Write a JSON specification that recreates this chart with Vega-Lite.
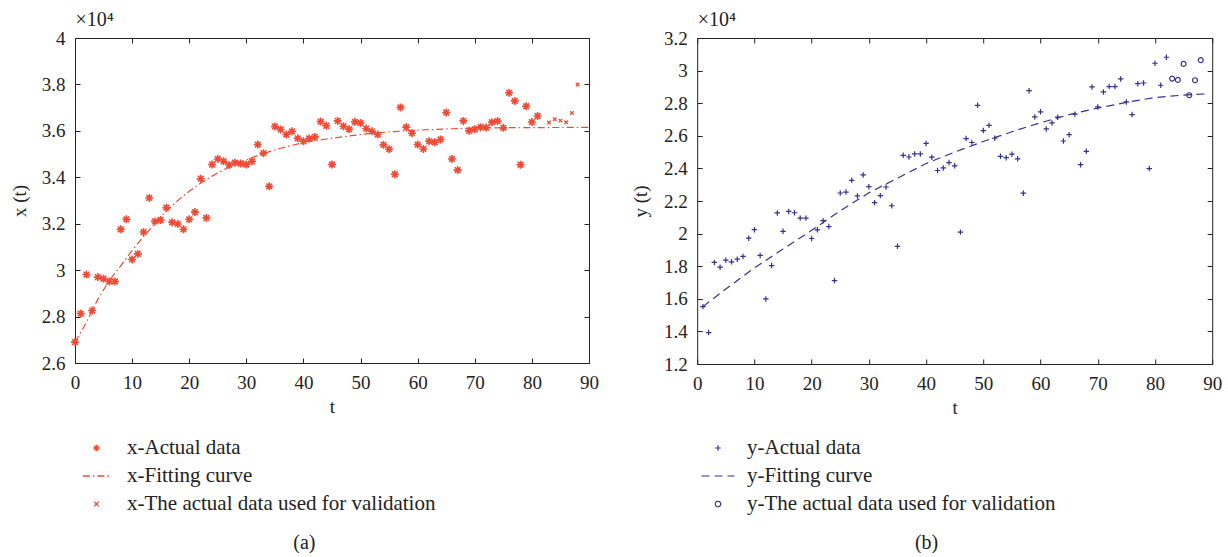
{
  "$schema": "https://vega.github.io/schema/vega-lite/v6.json",
  "background": "white",
  "padding": {"left": 10, "top": 9, "right": 6, "bottom": 0},
  "datasets": {
    "xActual": [
      {"t":0,"v":2.69},{"t":1,"v":2.813},{"t":2,"v":2.981},{"t":3,"v":2.826},{"t":4,"v":2.97},{"t":5,"v":2.963},{"t":6,"v":2.951},{"t":7,"v":2.951},{"t":8,"v":3.176},{"t":9,"v":3.219},
      {"t":10,"v":3.046},{"t":11,"v":3.07},{"t":12,"v":3.164},{"t":13,"v":3.311},{"t":14,"v":3.21},{"t":15,"v":3.216},{"t":16,"v":3.269},{"t":17,"v":3.206},{"t":18,"v":3.199},{"t":19,"v":3.176},
      {"t":20,"v":3.219},{"t":21,"v":3.25},{"t":22,"v":3.394},{"t":23,"v":3.225},{"t":24,"v":3.455},{"t":25,"v":3.479},{"t":26,"v":3.469},{"t":27,"v":3.453},{"t":28,"v":3.463},{"t":29,"v":3.459},
      {"t":30,"v":3.455},{"t":31,"v":3.469},{"t":32,"v":3.541},{"t":33,"v":3.504},{"t":34,"v":3.361},{"t":35,"v":3.619},{"t":36,"v":3.606},{"t":37,"v":3.584},{"t":38,"v":3.598},{"t":39,"v":3.568},
      {"t":40,"v":3.555},{"t":41,"v":3.567},{"t":42,"v":3.574},{"t":43,"v":3.64},{"t":44,"v":3.622},{"t":45,"v":3.455},{"t":46,"v":3.643},{"t":47,"v":3.62},{"t":48,"v":3.607},{"t":49,"v":3.639},
      {"t":50,"v":3.634},{"t":51,"v":3.61},{"t":52,"v":3.598},{"t":53,"v":3.584},{"t":54,"v":3.54},{"t":55,"v":3.521},{"t":56,"v":3.413},{"t":57,"v":3.701},{"t":58,"v":3.616},{"t":59,"v":3.59},
      {"t":60,"v":3.541},{"t":61,"v":3.522},{"t":62,"v":3.555},{"t":63,"v":3.551},{"t":64,"v":3.563},{"t":65,"v":3.679},{"t":66,"v":3.479},{"t":67,"v":3.431},{"t":68,"v":3.643},{"t":69,"v":3.6},
      {"t":70,"v":3.607},{"t":71,"v":3.616},{"t":72,"v":3.614},{"t":73,"v":3.637},{"t":74,"v":3.642},{"t":75,"v":3.613},{"t":76,"v":3.764},{"t":77,"v":3.729},{"t":78,"v":3.454},{"t":79,"v":3.706},
      {"t":80,"v":3.638},{"t":81,"v":3.664}
    ],
    "xFit": [
      {"t":0,"v":2.69},{"t":2,"v":2.775},{"t":4,"v":2.875},{"t":6,"v":2.955},{"t":8,"v":3.018},{"t":10,"v":3.085},{"t":12,"v":3.145},{"t":14,"v":3.2},{"t":16,"v":3.255},{"t":18,"v":3.3},
      {"t":20,"v":3.34},{"t":22,"v":3.375},{"t":24,"v":3.405},{"t":26,"v":3.432},{"t":28,"v":3.455},{"t":30,"v":3.475},{"t":33,"v":3.503},{"t":36,"v":3.525},{"t":40,"v":3.55},{"t":44,"v":3.565},
      {"t":48,"v":3.578},{"t":52,"v":3.59},{"t":56,"v":3.597},{"t":60,"v":3.603},{"t":66,"v":3.609},{"t":72,"v":3.613},{"t":80,"v":3.614},{"t":90,"v":3.615}
    ],
    "xVal": [
      {"t":83,"v":3.636},{"t":84,"v":3.65},{"t":85,"v":3.644},{"t":86,"v":3.637},{"t":87,"v":3.677},{"t":88,"v":3.8}
    ],
    "yActual": [
      {"t":1,"v":1.552},{"t":2,"v":1.393},{"t":3,"v":1.823},{"t":4,"v":1.794},{"t":5,"v":1.837},{"t":6,"v":1.827},{"t":7,"v":1.843},{"t":8,"v":1.86},{"t":9,"v":1.972},{"t":10,"v":2.024},
      {"t":11,"v":1.866},{"t":12,"v":1.599},{"t":13,"v":1.804},{"t":14,"v":2.127},{"t":15,"v":2.014},{"t":16,"v":2.136},{"t":17,"v":2.128},{"t":18,"v":2.095},{"t":19,"v":2.095},{"t":20,"v":1.97},
      {"t":21,"v":2.023},{"t":22,"v":2.079},{"t":23,"v":2.043},{"t":24,"v":1.712},{"t":25,"v":2.249},{"t":26,"v":2.255},{"t":27,"v":2.327},{"t":28,"v":2.231},{"t":29,"v":2.36},{"t":30,"v":2.288},
      {"t":31,"v":2.19},{"t":32,"v":2.233},{"t":33,"v":2.286},{"t":34,"v":2.171},{"t":35,"v":1.922},{"t":36,"v":2.48},{"t":37,"v":2.47},{"t":38,"v":2.489},{"t":39,"v":2.489},{"t":40,"v":2.553},
      {"t":41,"v":2.469},{"t":42,"v":2.387},{"t":43,"v":2.403},{"t":44,"v":2.436},{"t":45,"v":2.416},{"t":46,"v":2.009},{"t":47,"v":2.583},{"t":48,"v":2.559},{"t":49,"v":2.787},{"t":50,"v":2.632},
      {"t":51,"v":2.664},{"t":52,"v":2.585},{"t":53,"v":2.474},{"t":54,"v":2.466},{"t":55,"v":2.487},{"t":56,"v":2.459},{"t":57,"v":2.248},{"t":58,"v":2.877},{"t":59,"v":2.716},{"t":60,"v":2.747},
      {"t":61,"v":2.642},{"t":62,"v":2.679},{"t":63,"v":2.714},{"t":64,"v":2.568},{"t":65,"v":2.607},{"t":66,"v":2.733},{"t":67,"v":2.423},{"t":68,"v":2.505},{"t":69,"v":2.9},{"t":70,"v":2.777},
      {"t":71,"v":2.869},{"t":72,"v":2.902},{"t":73,"v":2.902},{"t":74,"v":2.949},{"t":75,"v":2.808},{"t":76,"v":2.73},{"t":77,"v":2.92},{"t":78,"v":2.924},{"t":79,"v":2.399},{"t":80,"v":3.045},
      {"t":81,"v":2.91},{"t":82,"v":3.082}
    ],
    "yFit": [
      {"t":1,"v":1.552},{"t":5,"v":1.66},{"t":10,"v":1.79},{"t":15,"v":1.905},{"t":20,"v":2.02},{"t":25,"v":2.14},{"t":30,"v":2.25},{"t":35,"v":2.34},{"t":40,"v":2.43},{"t":45,"v":2.5},
      {"t":50,"v":2.565},{"t":55,"v":2.625},{"t":60,"v":2.68},{"t":65,"v":2.73},{"t":70,"v":2.77},{"t":75,"v":2.805},{"t":80,"v":2.835},{"t":85,"v":2.85},{"t":89,"v":2.857}
    ],
    "yVal": [
      {"t":83,"v":2.951},{"t":84,"v":2.943},{"t":85,"v":3.041},{"t":86,"v":2.849},{"t":87,"v":2.941},{"t":88,"v":3.064}
    ]
  },
  "spacing": 108.2,
  "bounds": "flush",
  "resolve": {
    "scale": {"color": "independent", "shape": "independent", "strokeDash": "independent"},
    "legend": {"color": "independent", "shape": "independent", "strokeDash": "independent"}
  },
  "hconcat": [
    {
      "width": 514,
      "height": 325,
      "title": {"text": "(a)", "orient": "bottom", "anchor": "middle", "frame": "bounds", "offset": 18.5, "fontSize": 20, "fontWeight": "normal", "font": "Liberation Serif", "color": "#222"},
      "layer": [
        {
          "data": {"name": "xActual"},
          "mark": {"type": "point", "filled": false, "size": 64, "strokeWidth": 1.6, "opacity": 1},
          "encoding": {
            "x": {"field": "t", "type": "quantitative", "scale": {"domain": [0, 90], "nice": false, "zero": false},
                  "axis": {"orient": "bottom", "title": "t", "values": [0,10,20,30,40,50,60,70,80,90], "titlePadding": 5}},
            "y": {"field": "v", "type": "quantitative", "scale": {"domain": [2.6, 4], "nice": false, "zero": false},
                  "axis": {"orient": "left", "title": "x (t)", "values": [2.6,2.8,3,3.2,3.4,3.6,3.8,4], "format": ".1~f", "titlePadding": 12}},
            "color": {"datum": "x-Actual data", "type": "nominal",
                      "scale": {"domain": ["x-Actual data", "x-Fitting curve", "x-The actual data used for validation"], "range": ["#ef4a35", "#ef4a35", "#ef4a35"]},
                      "legend": {"orient": "none", "legendX": 11, "legendY": 399.5, "title": null, "labelFont": "Liberation Serif", "labelFontSize": 21, "labelColor": "#222", "symbolSize": 40, "symbolStrokeWidth": 1.3, "labelOffset": 20, "rowPadding": 6, "padding": 0, "labelLimit": 600}},
            "shape": {"datum": "x-Actual data", "type": "nominal",
                      "scale": {"domain": ["x-Actual data", "x-Fitting curve", "x-The actual data used for validation"],
                                "range": ["M-1,0L1,0M0,-1L0,1M-0.71,-0.71L0.71,0.71M-0.71,0.71L0.71,-0.71", "M-4.3,0L4.3,0", "M-0.75,-0.75L0.75,0.75M-0.75,0.75L0.75,-0.75"]}}
          }
        },
        {
          "data": {"name": "xFit"},
          "mark": {"type": "line", "strokeWidth": 1.2},
          "encoding": {
            "x": {"field": "t", "type": "quantitative", "scale": {"domain": [0, 90], "nice": false, "zero": false},
                  "axis": {"orient": "top", "labels": false, "title": "×10⁴", "titleFontSize": 20, "titleAnchor": "start", "titleAlign": "left", "titlePadding": 8, "values": [0,10,20,30,40,50,60,70,80,90]}},
            "y": {"field": "v", "type": "quantitative", "scale": {"domain": [2.6, 4], "nice": false, "zero": false},
                  "axis": {"orient": "right", "labels": false, "title": null, "values": [2.6,2.8,3,3.2,3.4,3.6,3.8,4]}},
            "color": {"datum": "x-Fitting curve", "type": "nominal"},
            "strokeDash": {"datum": "x-Fitting curve", "type": "nominal",
                           "scale": {"domain": ["x-Actual data", "x-Fitting curve", "x-The actual data used for validation"], "range": [[1, 0], [7, 3, 1.5, 3], [1, 0]]}}
          }
        },
        {
          "data": {"name": "xVal"},
          "mark": {"type": "point", "filled": false, "size": 22, "strokeWidth": 1.3, "opacity": 1},
          "encoding": {
            "x": {"field": "t", "type": "quantitative", "axis": null},
            "y": {"field": "v", "type": "quantitative", "axis": null},
            "color": {"datum": "x-The actual data used for validation", "type": "nominal"},
            "shape": {"datum": "x-The actual data used for validation", "type": "nominal"}
          }
        }
      ],
      "resolve": {"axis": {"x": "independent", "y": "independent"}}
    },
    {
      "width": 515,
      "height": 326,
      "title": {"text": "(b)", "orient": "bottom", "anchor": "middle", "frame": "bounds", "offset": 18.5, "fontSize": 20, "fontWeight": "normal", "font": "Liberation Serif", "color": "#222"},
      "layer": [
        {
          "data": {"name": "yActual"},
          "mark": {"type": "point", "filled": false, "size": 30, "strokeWidth": 1.2, "opacity": 1},
          "encoding": {
            "x": {"field": "t", "type": "quantitative", "scale": {"domain": [0, 90], "nice": false, "zero": false},
                  "axis": {"orient": "bottom", "title": "t", "values": [0,10,20,30,40,50,60,70,80,90], "titlePadding": 5}},
            "y": {"field": "v", "type": "quantitative", "scale": {"domain": [1.2, 3.2], "nice": false, "zero": false},
                  "axis": {"orient": "left", "title": "y (t)", "values": [1.2,1.4,1.6,1.8,2,2.2,2.4,2.6,2.8,3,3.2], "format": ".1~f", "titlePadding": 13}},
            "color": {"datum": "y-Actual data", "type": "nominal",
                      "scale": {"domain": ["y-Actual data", "y-Fitting curve", "y-The actual data used for validation"], "range": ["#35318f", "#35318f", "#35318f"]},
                      "legend": {"orient": "none", "legendX": 10.3, "legendY": 399.5, "title": null, "labelFont": "Liberation Serif", "labelFontSize": 21, "labelColor": "#222", "symbolSize": 30, "symbolStrokeWidth": 1.2, "labelOffset": 18.5, "rowPadding": 6, "padding": 0, "labelLimit": 600}},
            "shape": {"datum": "y-Actual data", "type": "nominal",
                      "scale": {"domain": ["y-Actual data", "y-Fitting curve", "y-The actual data used for validation"],
                                "range": ["M-1,0L1,0M0,-1L0,1", "M-6,0L6,0", "circle"]}}
          }
        },
        {
          "data": {"name": "yFit"},
          "mark": {"type": "line", "strokeWidth": 1.2},
          "encoding": {
            "x": {"field": "t", "type": "quantitative", "scale": {"domain": [0, 90], "nice": false, "zero": false},
                  "axis": {"orient": "top", "labels": false, "title": "×10⁴", "titleFontSize": 20, "titleAnchor": "start", "titleAlign": "left", "titlePadding": 8, "values": [0,10,20,30,40,50,60,70,80,90]}},
            "y": {"field": "v", "type": "quantitative", "scale": {"domain": [1.2, 3.2], "nice": false, "zero": false},
                  "axis": {"orient": "right", "labels": false, "title": null, "values": [1.2,1.4,1.6,1.8,2,2.2,2.4,2.6,2.8,3,3.2]}},
            "color": {"datum": "y-Fitting curve", "type": "nominal"},
            "strokeDash": {"datum": "y-Fitting curve", "type": "nominal",
                           "scale": {"domain": ["y-Actual data", "y-Fitting curve", "y-The actual data used for validation"], "range": [[1, 0], [8, 5], [1, 0]]}}
          }
        },
        {
          "data": {"name": "yVal"},
          "mark": {"type": "point", "filled": false, "size": 24, "strokeWidth": 1.2, "opacity": 1},
          "encoding": {
            "x": {"field": "t", "type": "quantitative", "axis": null},
            "y": {"field": "v", "type": "quantitative", "axis": null},
            "color": {"datum": "y-The actual data used for validation", "type": "nominal"},
            "shape": {"datum": "y-The actual data used for validation", "type": "nominal"}
          }
        }
      ],
      "resolve": {"axis": {"x": "independent", "y": "independent"}}
    }
  ],
  "config": {
    "font": "Liberation Serif",
    "view": {"stroke": null},
    "axis": {
      "grid": false,
      "labelFlush": false,
      "domainColor": "#222",
      "domainWidth": 1,
      "tickColor": "#222",
      "tickWidth": 1,
      "tickSize": -5,
      "labelPadding": 15,
      "labelFont": "Liberation Serif",
      "labelFontSize": 19,
      "labelColor": "#222",
      "titleFont": "Liberation Serif",
      "titleFontSize": 19,
      "titleFontWeight": "normal",
      "titleColor": "#222"
    }
  }
}
